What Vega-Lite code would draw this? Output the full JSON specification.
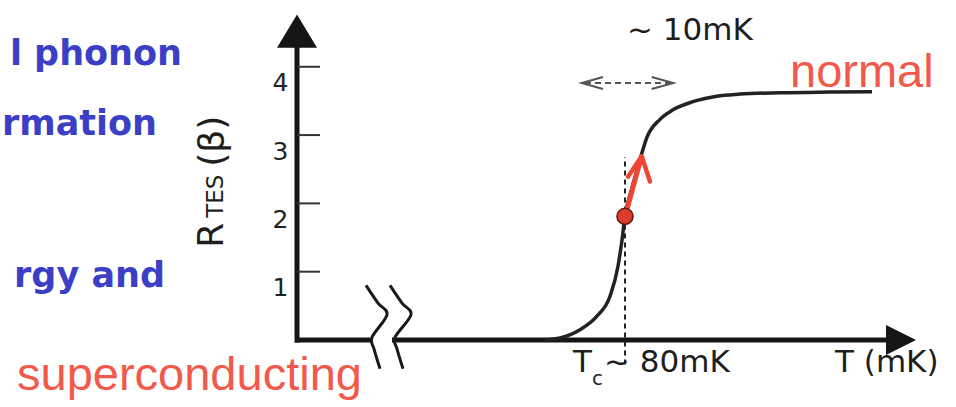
{
  "$schema": "https://vega.github.io/schema/vega-lite/v6.json",
  "width": 622,
  "height": 325,
  "autosize": {"type": "none"},
  "padding": {"left": 295, "top": 15, "right": 39, "bottom": 67},
  "background": "white",
  "config": {"view": {"stroke": null}},
  "datasets": {
    "axes": [
      {"T": 47.2, "T2": 47.2, "R": -0.035, "R2": 4.32},
      {"T": 47.0, "T2": 54.5, "R": 0, "R2": 0},
      {"T": 56.7, "T2": 106.2, "R": 0, "R2": 0}
    ],
    "ticks": [
      {"T": 47.2, "T2": 49.5, "R": 1, "R2": 1},
      {"T": 47.2, "T2": 49.5, "R": 2, "R2": 2},
      {"T": 47.2, "T2": 49.5, "R": 3, "R2": 3},
      {"T": 47.2, "T2": 49.5, "R": 4, "R2": 4}
    ],
    "yarrow": [{"T": 47.2, "R": 4.521}],
    "xarrow": [{"T": 107.6, "R": 0}],
    "breaks": [
      {"s": 1, "i": 1, "T": 54.1, "R": 0.8},
      {"s": 1, "i": 2, "T": 55.3, "R": 0.54},
      {"s": 1, "i": 3, "T": 56.2, "R": 0.37},
      {"s": 1, "i": 4, "T": 54.7, "R": 0.04},
      {"s": 1, "i": 5, "T": 54.9, "R": -0.13},
      {"s": 1, "i": 6, "T": 55.5, "R": -0.42},
      {"s": 2, "i": 1, "T": 56.5, "R": 0.8},
      {"s": 2, "i": 2, "T": 57.7, "R": 0.54},
      {"s": 2, "i": 3, "T": 58.6, "R": 0.37},
      {"s": 2, "i": 4, "T": 57.0, "R": 0.04},
      {"s": 2, "i": 5, "T": 57.2, "R": -0.13},
      {"s": 2, "i": 6, "T": 57.8, "R": -0.42}
    ],
    "tcline": [{"T": 80, "T2": 80, "R": -0.36, "R2": 2.68}],
    "curve": [
      {"T": 72.0, "R": 0.0},
      {"T": 73.5, "R": 0.03},
      {"T": 75.5, "R": 0.15},
      {"T": 77.17, "R": 0.345},
      {"T": 78.5, "R": 0.64},
      {"T": 79.3, "R": 1.08},
      {"T": 79.67, "R": 1.43},
      {"T": 80.0, "R": 1.81},
      {"T": 80.7, "R": 2.23},
      {"T": 81.5, "R": 2.64},
      {"T": 82.17, "R": 2.96},
      {"T": 83.5, "R": 3.23},
      {"T": 84.8, "R": 3.37},
      {"T": 86.8, "R": 3.49},
      {"T": 89.17, "R": 3.57},
      {"T": 91.5, "R": 3.6},
      {"T": 95.5, "R": 3.62},
      {"T": 100.5, "R": 3.63},
      {"T": 104.7, "R": 3.635}
    ],
    "shaft": [{"T": 80, "T2": 81.6, "R": 1.81, "R2": 2.66}],
    "barbs": [
      {"i": 1, "T": 80.3, "R": 2.39},
      {"i": 2, "T": 81.67, "R": 2.69},
      {"i": 3, "T": 82.5, "R": 2.32}
    ],
    "dot": [{"T": 80, "R": 1.81}],
    "span": [{"T": 76.0, "T2": 84.5, "R": 3.763, "R2": 3.763}],
    "chevrons": [
      {"s": 1, "i": 1, "T": 77.8, "R": 3.85},
      {"s": 1, "i": 2, "T": 75.67, "R": 3.763},
      {"s": 1, "i": 3, "T": 77.8, "R": 3.675},
      {"s": 2, "i": 1, "T": 82.67, "R": 3.85},
      {"s": 2, "i": 2, "T": 84.83, "R": 3.763},
      {"s": 2, "i": 3, "T": 82.67, "R": 3.675}
    ],
    "blackBig": [
      {"label": "~ 10mK", "T": 80.2, "R": 4.397},
      {"label": "T", "T": 74.8, "R": -0.464},
      {"label": "~ 80mK", "T": 77.9, "R": -0.464},
      {"label": "T (mK)", "T": 101.0, "R": -0.464}
    ],
    "sub": [{"label": "c", "T": 76.7, "R": -0.654}],
    "red": [
      {"label": "normal", "T": 96.5, "R": 3.709},
      {"label": "superconducting", "T": 19.2, "R": -0.728}
    ],
    "blue": [
      {"label": "l phonon", "T": 35.7, "R": 4.03},
      {"label": "rmation", "T": 33.2, "R": 3.006},
      {"label": "rgy and", "T": 34.0, "R": 0.78}
    ],
    "titleBig": [
      {"label": "R", "T": 39.8, "R": 1.351},
      {"label": "(β)", "T": 39.9, "R": 2.537}
    ],
    "titleSub": [{"label": "TES", "T": 39.8, "R": 1.79}],
    "ylab": [{"T": 47.2, "R": 1}, {"T": 47.2, "R": 2}, {"T": 47.2, "R": 3}, {"T": 47.2, "R": 4}]
  },
  "encoding": {
    "x": {"field": "T", "type": "quantitative", "scale": {"domain": [47, 109.2], "nice": false, "zero": false}, "axis": null},
    "y": {"field": "R", "type": "quantitative", "scale": {"domain": [0, 4.758], "nice": false, "zero": false}, "axis": {"values": [1, 2, 3, 4], "domain": false, "ticks": false, "tickSize": 0, "grid": false, "title": null, "labelFont": "DejaVu Sans", "labelFontSize": 25, "labelColor": "#222222", "labelPadding": 7, "labelOffset": 16, "labelBaseline": "middle"}}
  },
  "layer": [
    {"data": {"name": "ylab"}, "mark": {"type": "point", "opacity": 0}},
    {"data": {"name": "axes"}, "mark": {"type": "rule", "strokeWidth": 5, "color": "#151515"}, "encoding": {"x2": {"field": "T2"}, "y2": {"field": "R2"}}},
    {"data": {"name": "ticks"}, "mark": {"type": "rule", "strokeWidth": 2, "color": "#333333"}, "encoding": {"x2": {"field": "T2"}, "y2": {"field": "R2"}}},
    {"data": {"name": "yarrow"}, "mark": {"type": "point", "shape": "M0,-0.83L1,0.83L-1,0.83Z", "size": 1600, "filled": true, "opacity": 1, "color": "#151515", "strokeWidth": 0}},
    {"data": {"name": "xarrow"}, "mark": {"type": "point", "shape": "M-1,-1L1,0L-1,1Z", "size": 900, "filled": true, "opacity": 1, "color": "#151515", "strokeWidth": 0}},
    {"data": {"name": "breaks"}, "mark": {"type": "line", "interpolate": "cardinal", "strokeWidth": 3, "color": "#1a1a1a"}, "encoding": {"detail": {"field": "s"}, "order": {"field": "i"}}},
    {"data": {"name": "tcline"}, "mark": {"type": "rule", "strokeWidth": 2, "strokeDash": [5, 4], "color": "#222222"}, "encoding": {"x2": {"field": "T2"}, "y2": {"field": "R2"}}},
    {"data": {"name": "curve"}, "mark": {"type": "line", "interpolate": "monotone", "strokeWidth": 3.5, "color": "#222222"}},
    {"data": {"name": "shaft"}, "mark": {"type": "rule", "strokeWidth": 5, "color": "#ef4634", "strokeCap": "round"}, "encoding": {"x2": {"field": "T2"}, "y2": {"field": "R2"}}},
    {"data": {"name": "barbs"}, "mark": {"type": "line", "strokeWidth": 4.5, "color": "#ef4634", "strokeCap": "round", "strokeJoin": "round"}, "encoding": {"order": {"field": "i"}}},
    {"data": {"name": "dot"}, "mark": {"type": "point", "shape": "circle", "size": 260, "filled": true, "opacity": 1, "fill": "#dc3b2c", "stroke": "#5b1c14", "strokeWidth": 1.5}},
    {"data": {"name": "span"}, "mark": {"type": "rule", "strokeWidth": 2, "strokeDash": [6, 4], "color": "#555555"}, "encoding": {"x2": {"field": "T2"}, "y2": {"field": "R2"}}},
    {"data": {"name": "chevrons"}, "mark": {"type": "line", "strokeWidth": 2, "color": "#555555"}, "encoding": {"detail": {"field": "s"}, "order": {"field": "i"}}},
    {"data": {"name": "blackBig"}, "mark": {"type": "text", "font": "DejaVu Sans", "fontSize": 31, "color": "#1e1e1e", "align": "left", "baseline": "alphabetic"}, "encoding": {"text": {"field": "label"}}},
    {"data": {"name": "sub"}, "mark": {"type": "text", "font": "DejaVu Sans", "fontSize": 20, "color": "#1e1e1e", "align": "left", "baseline": "alphabetic"}, "encoding": {"text": {"field": "label"}}},
    {"data": {"name": "red"}, "mark": {"type": "text", "font": "Liberation Sans", "fontSize": 47, "color": "#f2594b", "align": "left", "baseline": "alphabetic"}, "encoding": {"text": {"field": "label"}}},
    {"data": {"name": "blue"}, "mark": {"type": "text", "font": "DejaVu Sans", "fontWeight": "bold", "fontSize": 35, "color": "#3b3fc6", "align": "right", "baseline": "alphabetic"}, "encoding": {"text": {"field": "label"}}},
    {"data": {"name": "titleBig"}, "mark": {"type": "text", "font": "DejaVu Sans", "fontSize": 36, "angle": 270, "color": "#1e1e1e", "align": "left", "baseline": "alphabetic"}, "encoding": {"text": {"field": "label"}}},
    {"data": {"name": "titleSub"}, "mark": {"type": "text", "font": "DejaVu Sans", "fontSize": 23, "angle": 270, "color": "#1e1e1e", "align": "left", "baseline": "alphabetic"}, "encoding": {"text": {"field": "label"}}}
  ]
}
